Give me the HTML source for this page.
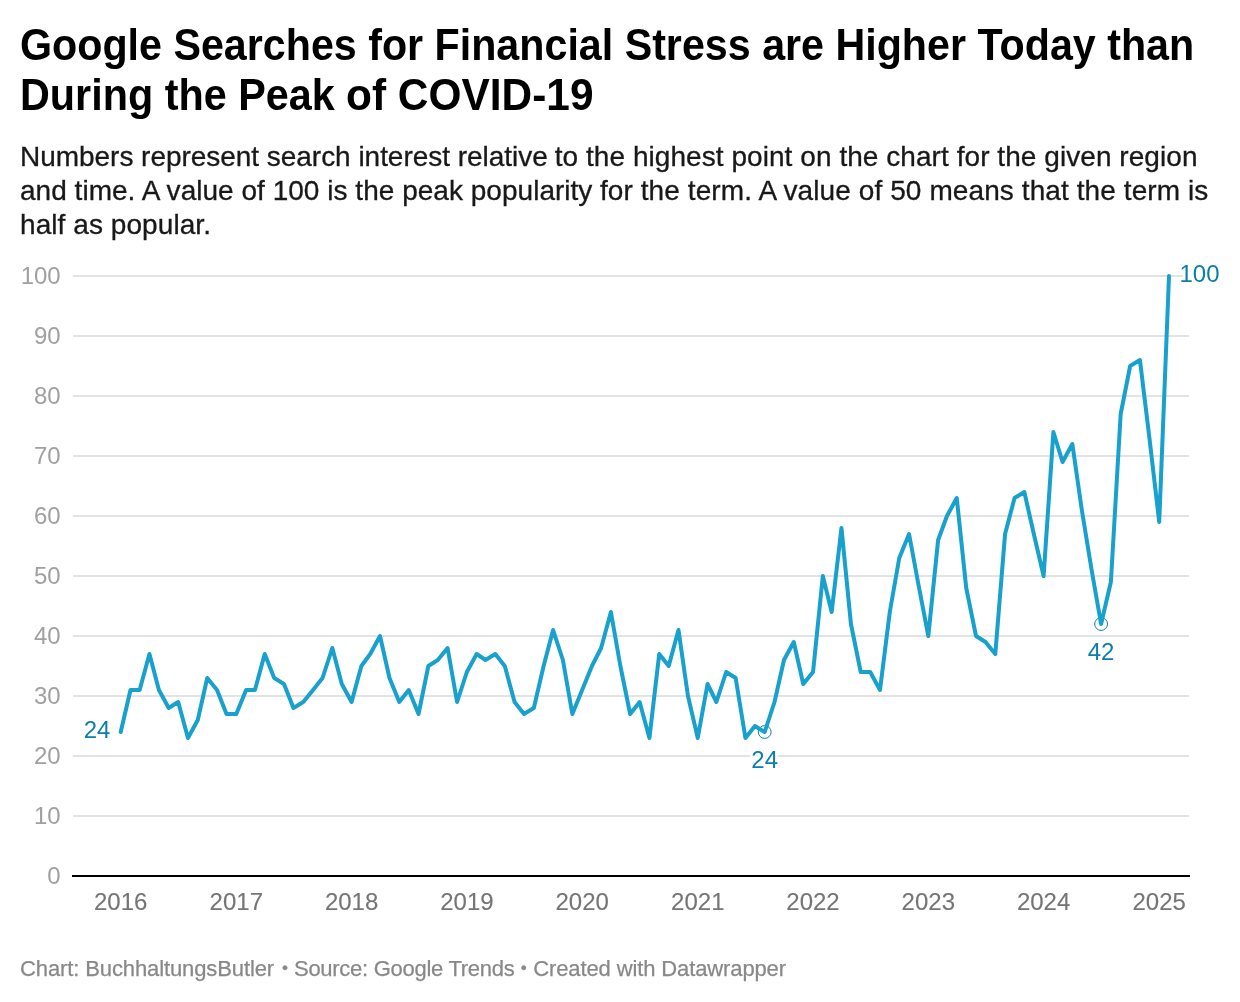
<!DOCTYPE html>
<html lang="en">
<head>
<meta charset="utf-8">
<title>Google Searches for Financial Stress are Higher Today than During the Peak of COVID-19</title>
<style>
html,body{margin:0;padding:0;background:#fff;}
body{width:1240px;height:1002px;position:relative;overflow:hidden;font-family:"Liberation Sans", sans-serif;}
h1,p,footer{margin:0;padding:0;font-size:inherit;font-weight:inherit;}
.t{position:absolute;display:block;white-space:nowrap;line-height:1;margin:0;}
.h{font-size:44px;font-weight:700;color:#000;}
.d{font-size:28px;font-weight:400;color:#181818;-webkit-text-stroke:0.3px #181818;}
.f{font-size:22px;font-weight:400;color:#888;-webkit-text-stroke:0.25px #888;}
</style>
</head>
<body>
<h1><span class="t h" style="left:20px;top:22.75px;letter-spacing:0px;transform:scaleX(0.9367);transform-origin:0 0" id="h1">Google Searches for Financial Stress are Higher Today than</span>
<span class="t h" style="left:20px;top:72.75px;letter-spacing:0px;transform:scaleX(0.9397);transform-origin:0 0" id="h2a">During the Peak </span><span class="t h" style="left:345.74px;top:72.75px;letter-spacing:0px;transform:scaleX(0.9642);transform-origin:0 0" id="h2b">of COVID-19</span></h1>
<p><span class="t d" style="left:20px;top:143.3px;letter-spacing:-0.034px" id="d1a">Numbers represent search interest relative </span><span class="t d" style="left:554.7px;top:143.3px;letter-spacing:0.057px" id="d1b">to the highest point on the chart for the given region</span>
<span class="t d" style="left:20px;top:177.1px;letter-spacing:0.024px" id="d2a">and time. A value of 100 is the peak popularity </span><span class="t d" style="left:599.9px;top:177.1px;letter-spacing:0.094px" id="d2b">for the term. A value of 50 means that the term is</span>
<span class="t d" style="left:20px;top:210.8px;letter-spacing:0.07px" id="d3">half as popular.</span></p>
<svg role="img" aria-label="Line chart" width="1240" height="1002" viewBox="0 0 1240 1002" style="position:absolute;left:0;top:0" font-family='"Liberation Sans", sans-serif' font-size="24">
<rect x="73" y="815" width="1116" height="2" fill="#e3e3e3"/>
<rect x="73" y="755" width="1116" height="2" fill="#e3e3e3"/>
<rect x="73" y="695" width="1116" height="2" fill="#e3e3e3"/>
<rect x="73" y="635" width="1116" height="2" fill="#e3e3e3"/>
<rect x="73" y="575" width="1116" height="2" fill="#e3e3e3"/>
<rect x="73" y="515" width="1116" height="2" fill="#e3e3e3"/>
<rect x="73" y="455" width="1116" height="2" fill="#e3e3e3"/>
<rect x="73" y="395" width="1116" height="2" fill="#e3e3e3"/>
<rect x="73" y="335" width="1116" height="2" fill="#e3e3e3"/>
<rect x="73" y="275" width="1116" height="2" fill="#e3e3e3"/>
<text x="60.7" y="883.5" text-anchor="end" fill="#a0a0a0" letter-spacing="0">0</text>
<text x="60.7" y="823.5" text-anchor="end" fill="#a0a0a0" letter-spacing="0">10</text>
<text x="60.7" y="763.5" text-anchor="end" fill="#a0a0a0" letter-spacing="0">20</text>
<text x="60.7" y="703.5" text-anchor="end" fill="#a0a0a0" letter-spacing="0">30</text>
<text x="60.7" y="643.5" text-anchor="end" fill="#a0a0a0" letter-spacing="0">40</text>
<text x="60.7" y="583.5" text-anchor="end" fill="#a0a0a0" letter-spacing="0">50</text>
<text x="60.7" y="523.5" text-anchor="end" fill="#a0a0a0" letter-spacing="0">60</text>
<text x="60.7" y="463.5" text-anchor="end" fill="#a0a0a0" letter-spacing="0">70</text>
<text x="60.7" y="403.5" text-anchor="end" fill="#a0a0a0" letter-spacing="0">80</text>
<text x="60.7" y="343.5" text-anchor="end" fill="#a0a0a0" letter-spacing="0">90</text>
<text x="60.7" y="283.5" text-anchor="end" fill="#a0a0a0" letter-spacing="0">100</text>
<rect x="72" y="875" width="1118" height="2" fill="#000"/>
<text x="120.7" y="910" text-anchor="middle" fill="#757575" stroke="#757575" stroke-width="0.12" letter-spacing="0">2016</text>
<text x="236.3" y="910" text-anchor="middle" fill="#757575" stroke="#757575" stroke-width="0.12" letter-spacing="0">2017</text>
<text x="351.6" y="910" text-anchor="middle" fill="#757575" stroke="#757575" stroke-width="0.12" letter-spacing="0">2018</text>
<text x="466.9" y="910" text-anchor="middle" fill="#757575" stroke="#757575" stroke-width="0.12" letter-spacing="0">2019</text>
<text x="582.2" y="910" text-anchor="middle" fill="#757575" stroke="#757575" stroke-width="0.12" letter-spacing="0">2020</text>
<text x="697.8" y="910" text-anchor="middle" fill="#757575" stroke="#757575" stroke-width="0.12" letter-spacing="0">2021</text>
<text x="813.0" y="910" text-anchor="middle" fill="#757575" stroke="#757575" stroke-width="0.12" letter-spacing="0">2022</text>
<text x="928.3" y="910" text-anchor="middle" fill="#757575" stroke="#757575" stroke-width="0.12" letter-spacing="0">2023</text>
<text x="1043.6" y="910" text-anchor="middle" fill="#757575" stroke="#757575" stroke-width="0.12" letter-spacing="0">2024</text>
<text x="1159.2" y="910" text-anchor="middle" fill="#757575" stroke="#757575" stroke-width="0.12" letter-spacing="0">2025</text>
<circle cx="764.7" cy="732.0" r="6.4" fill="none" stroke="#0b7eab" stroke-width="1"/>
<circle cx="1101.1" cy="624.0" r="6.4" fill="none" stroke="#0b7eab" stroke-width="1"/>
<path d="M120.70,732.00L130.49,690.00L139.65,690.00L149.44,654.00L158.92,690.00L168.71,708.00L178.18,702.00L187.98,738.00L197.77,720.00L207.24,678.00L217.03,690.00L226.51,714.00L236.30,714.00L246.09,690.00L254.94,690.00L264.73,654.00L274.20,678.00L283.99,684.00L293.47,708.00L303.26,702.00L313.05,690.00L322.53,678.00L332.32,648.00L341.79,684.00L351.58,702.00L361.38,666.00L370.22,654.00L380.01,636.00L389.49,678.00L399.28,702.00L408.75,690.00L418.54,714.00L428.34,666.00L437.81,660.00L447.60,648.00L457.08,702.00L466.87,672.00L476.66,654.00L485.50,660.00L495.30,654.00L504.77,666.00L514.56,702.00L524.04,714.00L533.83,708.00L543.62,666.00L553.10,630.00L562.89,660.00L572.36,714.00L582.15,690.00L591.95,666.00L601.11,648.00L610.90,612.00L620.37,666.00L630.16,714.00L639.64,702.00L649.43,738.00L659.22,654.00L668.70,666.00L678.49,630.00L687.96,696.00L697.75,738.00L707.55,684.00L716.39,702.00L726.18,672.00L735.66,678.00L745.45,738.00L754.92,726.00L764.71,732.00L774.51,702.00L783.98,660.00L793.77,642.00L803.25,684.00L813.04,672.00L822.83,576.00L831.67,612.00L841.47,528.00L850.94,624.00L860.73,672.00L870.21,672.00L880.00,690.00L889.79,612.00L899.27,558.00L909.06,534.00L918.53,585.00L928.32,636.00L938.12,540.00L946.96,516.00L956.75,498.00L966.23,588.00L976.02,636.00L985.49,642.00L995.28,654.00L1005.07,534.00L1014.55,498.00L1024.34,492.00L1033.82,534.00L1043.61,576.00L1053.40,432.00L1062.56,462.00L1072.35,444.00L1081.83,510.00L1091.62,570.00L1101.09,624.00L1110.88,582.00L1120.68,414.00L1130.15,366.00L1139.94,360.00L1149.42,438.00L1159.21,522.00L1169.00,276.00" fill="none" stroke="#18a1cd" stroke-width="4" stroke-linejoin="round" stroke-linecap="round"/>
<text x="764.7" y="768" text-anchor="middle" fill="#0b7eab" stroke="#fff" stroke-width="5" stroke-linejoin="round" paint-order="stroke">24</text>
<text x="1101.1" y="660" text-anchor="middle" fill="#0b7eab" stroke="#fff" stroke-width="5" stroke-linejoin="round" paint-order="stroke">42</text>
<text x="110.4" y="738" text-anchor="end" fill="#0b7eab" stroke="#fff" stroke-width="5" stroke-linejoin="round" paint-order="stroke">24</text>
<text x="1179.5" y="282" text-anchor="start" fill="#0b7eab" stroke="#fff" stroke-width="5" stroke-linejoin="round" paint-order="stroke">100</text>
</svg>
<footer><span class="t f" style="left:20px;top:957.98px;letter-spacing:-0.113px" id="f1">Chart: BuchhaltungsButler</span>
<span class="t f" style="left:282.0px;top:958.81px;letter-spacing:0px;font-size:17px" id="b1">&bull;</span>
<span class="t f" style="left:294px;top:957.98px;letter-spacing:-0.275px" id="f2">Source: Google Trends</span>
<span class="t f" style="left:520.7px;top:958.81px;letter-spacing:0px;font-size:17px" id="b2">&bull;</span>
<span class="t f" style="left:533.2px;top:957.98px;letter-spacing:-0.117px" id="f3">Created with Datawrapper</span></footer>
</body>
</html>
